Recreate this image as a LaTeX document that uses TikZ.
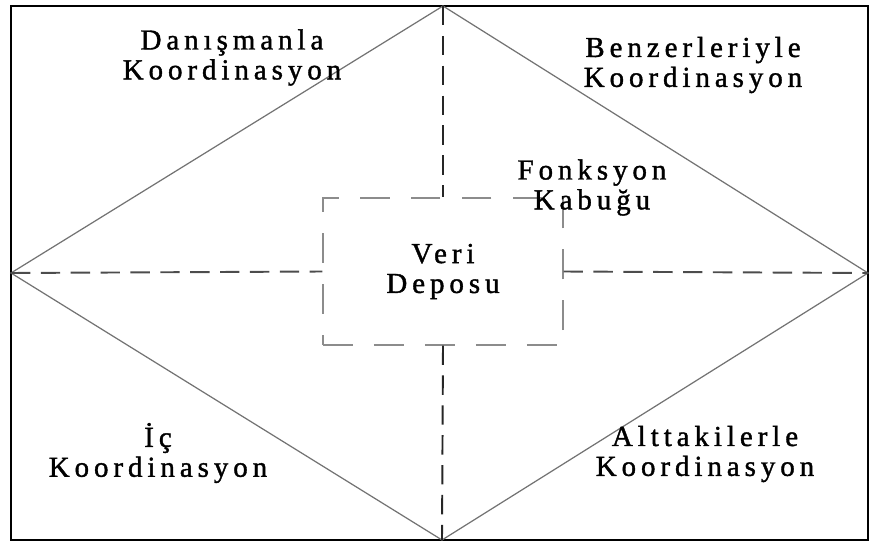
\documentclass[tikz,border=0pt]{standalone}
\usepackage{fontspec}
\setmainfont[LetterSpace=17,FakeBold=1.3]{Liberation Serif}
\usetikzlibrary{positioning}
\definecolor{lineG}{rgb}{0.45,0.45,0.45}
\definecolor{boxG}{rgb}{0.55,0.55,0.55}

\begin{document}
\begin{tikzpicture}[x=0.02cm, y=-0.02cm, line cap=butt,
  lbl/.style={font=\fontsize{16.5}{17}\selectfont, align=center, inner sep=0pt},
  axis/.style={draw=black!85, line width=1.1pt, dash pattern=on 11pt off 6pt},
  side/.style={draw=lineG, line width=0.7pt}]
\useasboundingbox (0,0) rectangle (870,544);
% çerçeve
\draw[line width=1.2pt] (11,6) rectangle (868,540);
% köşe noktaları
\coordinate (top) at (443,6);
\coordinate (lft) at (11,273);
\coordinate (rgt) at (868,273);
\coordinate (bot) at (442,540);
% eşkenar dörtgen
\draw[side] (top) -- (rgt) -- (bot) -- (lft) -- cycle;
% veri deposu kutusu
\node[draw=boxG, line width=0.7pt, dash pattern=on 17pt off 12pt,
  minimum width=240*0.02cm, minimum height=147*0.02cm, lbl] (depo) at (443,271.5) {Veri\\Deposu};
% eksenler
\draw[axis] (top) -- (depo.north);
\draw[axis] (depo.south) -- (bot);
\draw[axis, draw=black!70] (lft) -- (depo.west);
\draw[axis, draw=black!70] (depo.east) -- (rgt);
% etiketler
\node[lbl] (danis) at (232,57.5) {Danışmanla\\Koordinasyon};
\node[lbl] (benzer) at (693,65) {Benzerleriyle\\Koordinasyon};
\node[lbl] (kabuk) at (592,187.5) {Fonksyon\\Kabuğu};
\node[lbl] (ic) at (158,453) {İç\\Koordinasyon};
\node[lbl] (altta) at (705,454) {Alttakilerle\\Koordinasyon};
\end{tikzpicture}
\end{document}
